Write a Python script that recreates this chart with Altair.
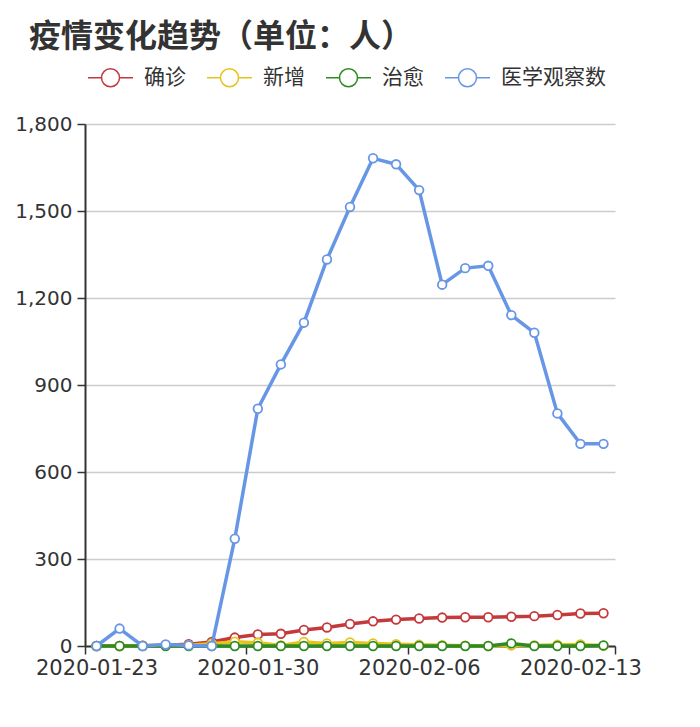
import altair as alt
import pandas as pd

# ---- data ----
dates = pd.date_range("2020-01-23", periods=23, freq="D").strftime("%Y-%m-%d").tolist()
series_names = ["确诊", "新增", "治愈", "医学观察数"]
confirmed = [0, 0, 1, 3, 6, 14, 29, 40, 42, 55, 64, 76, 85, 91, 95, 98, 99, 99, 101, 103, 107, 112, 113]
new_cases = [0, 0, 1, 2, 3, 8, 15, 11, 2, 14, 9, 12, 9, 6, 4, 3, 1, 0, 2, 2, 4, 5, 1]
cured = [0, 0, 0, 0, 0, 0, 0, 0, 0, 0, 0, 0, 0, 0, 0, 0, 0, 0, 9, 0, 0, 0, 2]
observed = [0, 60, 0, 5, 2, 0, 370, 818, 971, 1115, 1333, 1514, 1682, 1661, 1572,
            1246, 1303, 1311, 1141, 1080, 802, 697, 697]
colors = ["#c4393b", "#e6c31c", "#2e8b22", "#6896e6"]
y_ticks = [0, 300, 600, 900, 1200, 1500, 1800]
x_tick_dates = ["2020-01-23", "2020-01-30", "2020-02-06", "2020-02-13", "2020-02-15"]

rows = []
for name, vals in zip(series_names, [confirmed, new_cases, cured, observed]):
    for d, v in zip(dates, vals):
        rows.append({"date": d + "T12:00:00", "series": name, "value": v})
df = pd.DataFrame(rows)

def dt(s):
    y, m, d = (int(p) for p in s.split("-"))
    return alt.DateTime(year=y, month=m, date=d)

x_enc = alt.X(
    "date:T",
    scale=alt.Scale(domain=[dt("2020-01-23"), dt("2020-02-15")], nice=False),
    axis=alt.Axis(
        title=None,
        values=[dt(s) for s in x_tick_dates],
        format="%Y-%m-%d",
        labelExpr="timeFormat(datum.value, '%m-%d') == '02-15' ? '' : datum.label",
        labelOffset=11.5,
        labelOverlap=False,
        labelBound=False,
        labelFlush=False,
        grid=False,
        tickSize=8,
        labelPadding=3,
        labelFontSize=21,
    ),
)
y_enc = alt.Y(
    "value:Q",
    scale=alt.Scale(domain=[0, 1800], nice=False),
    axis=alt.Axis(title=None, values=y_ticks, format=",d", tickSize=8, labelPadding=5),
)
color_scale = alt.Scale(domain=series_names, range=colors)
legend = alt.Legend(
    title=None,
    orient="none",
    legendX=2,
    legendY=-70,
    direction="horizontal",
    columns=4,
    symbolType="M-1,0L-0.4,0M0.4,0L1,0M-0.4,0A0.4,0.4,0,1,1,0.4,0A0.4,0.4,0,1,1,-0.4,0",
    symbolSize=2025,
    symbolStrokeWidth=1.5,
    symbolFillColor="white",
    symbolOpacity=1,
    labelFontSize=21,
    labelFont="Noto Sans CJK SC",
    labelColor="#333333",
    labelOffset=10,
    columnPadding=18,
)

base = alt.Chart(df)
layers = []
for name in series_names:
    sub = base.transform_filter(alt.datum.series == name)
    line = sub.mark_line(strokeWidth=3.5).encode(
        x=x_enc, y=y_enc,
        color=alt.Color("series:N", scale=color_scale, legend=legend),
    )
    pts = sub.mark_point(filled=False, fill="white", fillOpacity=1, size=75, strokeWidth=1.8, opacity=1).encode(
        x=x_enc, y=y_enc,
        color=alt.Color("series:N", scale=color_scale, legend=legend),
    )
    layers += [line, pts]

chart = alt.layer(*layers).properties(
    width=530,
    height=522,
    autosize="none",
    padding={"left": 77, "top": 116, "right": 77, "bottom": 73},
    title=alt.TitleParams(
        text="疫情变化趋势（单位：人）",
        anchor="start",
        frame="group",
        dx=-56,
        offset=0,
        fontSize=32,
        fontWeight="bold",
        font="Noto Sans CJK SC",
        color="#333333",
    ),
).configure_view(stroke=None).configure_axis(
    labelFont="DejaVu Sans",
    labelFontSize=20,
    labelColor="#333333",
    domainColor="#333333",
    domainWidth=2,
    tickColor="#333333",
    tickWidth=1.5,
    gridColor="#cccccc",
    gridWidth=1.5,
)

chart.save("out.html", embed_options={"renderer": "svg", "actions": False})
